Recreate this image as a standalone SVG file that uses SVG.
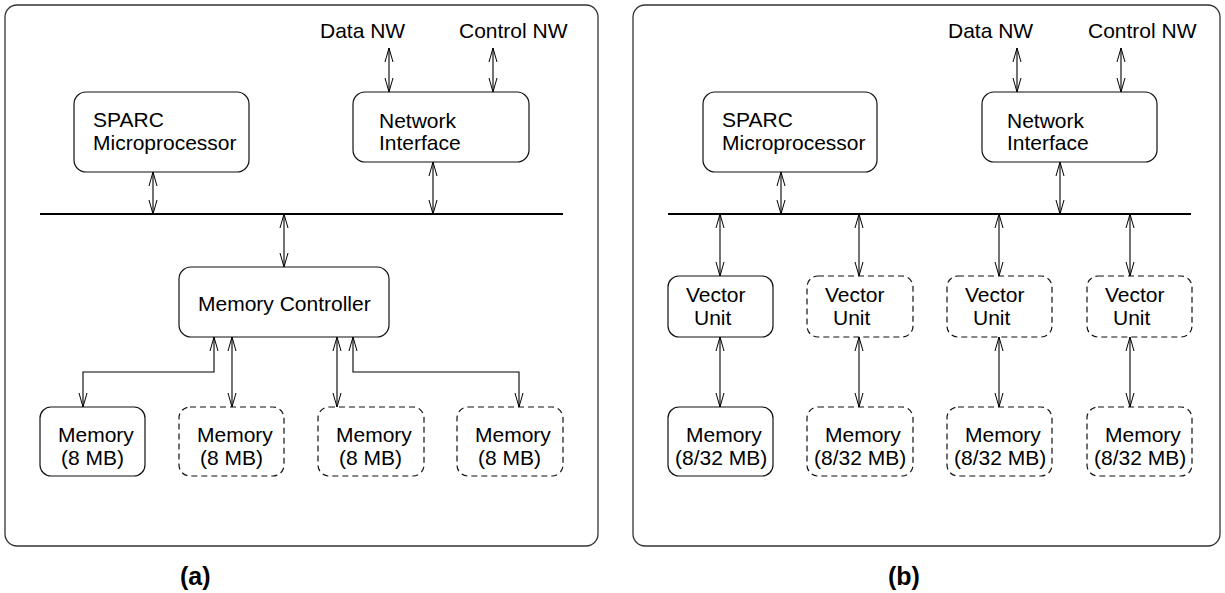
<svg xmlns="http://www.w3.org/2000/svg" width="1225" height="593" viewBox="0 0 1225 593">
<style>
.frame{fill:#fff;stroke:#333;stroke-width:1.3}
.box{fill:#fff;stroke:#111;stroke-width:1.2}
.dash{fill:#fff;stroke:#111;stroke-width:1.2;stroke-dasharray:6,4}
.bus{stroke:#000;stroke-width:2.2;fill:none}
.con{stroke:#000;stroke-width:1.1;fill:none;marker-start:url(#ah);marker-end:url(#ah)}
text{font-family:"Liberation Sans",Arial,sans-serif;font-size:21px;fill:#000}
.cap{font-weight:bold;font-size:25px}
</style>
<defs>
<marker id="ah" viewBox="0 0 14 10" refX="14" refY="5" markerWidth="14" markerHeight="10" markerUnits="userSpaceOnUse" orient="auto-start-reverse">
<path d="M0,1 L14,5 L0,9" fill="none" stroke="#000" stroke-width="1"/>
</marker>
</defs>
<rect width="1225" height="593" fill="#fff"/>
<g id="panel-a">
<rect class="frame" x="5" y="5" width="593" height="541" rx="12"/>
<text class="cap" x="180" y="585">(a)</text>
</g>
<g id="panel-b">
<rect class="frame" x="633" y="5" width="587" height="541" rx="12"/>
<text class="cap" x="888" y="585">(b)</text>
</g>
<g id="connectors">
<line class="bus" x1="40" y1="214" x2="563" y2="214"/>
<line class="bus" x1="668" y1="214" x2="1191" y2="214"/>
<line class="con" x1="389" y1="48" x2="389" y2="92"/>
<line class="con" x1="493" y1="48" x2="493" y2="92"/>
<line class="con" x1="153" y1="172" x2="153" y2="214"/>
<line class="con" x1="433" y1="162" x2="433" y2="214"/>
<line class="con" x1="284" y1="214" x2="284" y2="267"/>
<path class="con" d="M214,337 V372 H83 V407"/>
<line class="con" x1="232" y1="337" x2="232" y2="407"/>
<line class="con" x1="337" y1="337" x2="337" y2="407"/>
<path class="con" d="M353,337 V372 H519 V407"/>
<line class="con" x1="1017" y1="48" x2="1017" y2="92"/>
<line class="con" x1="1121" y1="48" x2="1121" y2="92"/>
<line class="con" x1="781" y1="172" x2="781" y2="214"/>
<line class="con" x1="1060" y1="162" x2="1060" y2="214"/>
<line class="con" x1="720" y1="214" x2="720" y2="276"/>
<line class="con" x1="859" y1="214" x2="859" y2="276"/>
<line class="con" x1="999" y1="214" x2="999" y2="276"/>
<line class="con" x1="1130" y1="214" x2="1130" y2="276"/>
<line class="con" x1="720" y1="337" x2="720" y2="407"/>
<line class="con" x1="859" y1="337" x2="859" y2="407"/>
<line class="con" x1="999" y1="337" x2="999" y2="407"/>
<line class="con" x1="1130" y1="337" x2="1130" y2="407"/>
</g>
<g id="a-labels">
<text x="320" y="38">Data NW</text>
<text x="459" y="38">Control NW</text>
</g>
<g id="a-sparc">
<rect class="box" x="74" y="92" width="175" height="80" rx="12"/>
<text x="93" y="127">SPARC</text>
<text x="93" y="150">Microprocessor</text>
</g>
<g id="a-ni">
<rect class="box" x="353" y="92" width="176" height="70" rx="12"/>
<text x="379" y="128">Network</text>
<text x="379" y="150">Interface</text>
</g>
<g id="a-mc">
<rect class="box" x="179" y="267" width="210" height="70" rx="12"/>
<text x="198" y="311">Memory Controller</text>
</g>
<g id="a-mem1">
<rect class="box" x="40" y="407" width="105" height="69" rx="11"/>
<text x="58" y="442">Memory</text>
<text x="61" y="465">(8 MB)</text>
</g>
<g id="a-mem2">
<rect class="dash" x="179" y="407" width="105" height="69" rx="11"/>
<text x="197" y="442">Memory</text>
<text x="200" y="465">(8 MB)</text>
</g>
<g id="a-mem3">
<rect class="dash" x="318" y="407" width="106" height="69" rx="11"/>
<text x="336" y="442">Memory</text>
<text x="339" y="465">(8 MB)</text>
</g>
<g id="a-mem4">
<rect class="dash" x="457" y="407" width="106" height="69" rx="11"/>
<text x="475" y="442">Memory</text>
<text x="478" y="465">(8 MB)</text>
</g>
<g id="b-labels">
<text x="948" y="38">Data NW</text>
<text x="1088" y="38">Control NW</text>
</g>
<g id="b-sparc">
<rect class="box" x="703" y="92" width="174" height="80" rx="12"/>
<text x="722" y="127">SPARC</text>
<text x="722" y="150">Microprocessor</text>
</g>
<g id="b-ni">
<rect class="box" x="982" y="92" width="175" height="70" rx="12"/>
<text x="1007" y="128">Network</text>
<text x="1007" y="150">Interface</text>
</g>
<g id="b-vu1">
<rect class="box" x="668" y="276" width="105" height="61" rx="11"/>
<text x="686" y="302">Vector</text>
<text x="694" y="325">Unit</text>
</g>
<g id="b-vu2">
<rect class="dash" x="807" y="276" width="106" height="61" rx="11"/>
<text x="825" y="302">Vector</text>
<text x="833" y="325">Unit</text>
</g>
<g id="b-vu3">
<rect class="dash" x="947" y="276" width="105" height="61" rx="11"/>
<text x="965" y="302">Vector</text>
<text x="973" y="325">Unit</text>
</g>
<g id="b-vu4">
<rect class="dash" x="1087" y="276" width="105" height="61" rx="11"/>
<text x="1105" y="302">Vector</text>
<text x="1113" y="325">Unit</text>
</g>
<g id="b-mem1">
<rect class="box" x="668" y="407" width="105" height="69" rx="11"/>
<text x="686" y="442">Memory</text>
<text x="675" y="465">(8/32 MB)</text>
</g>
<g id="b-mem2">
<rect class="dash" x="807" y="407" width="106" height="69" rx="11"/>
<text x="825" y="442">Memory</text>
<text x="814" y="465">(8/32 MB)</text>
</g>
<g id="b-mem3">
<rect class="dash" x="947" y="407" width="105" height="69" rx="11"/>
<text x="965" y="442">Memory</text>
<text x="954" y="465">(8/32 MB)</text>
</g>
<g id="b-mem4">
<rect class="dash" x="1087" y="407" width="105" height="69" rx="11"/>
<text x="1105" y="442">Memory</text>
<text x="1094" y="465">(8/32 MB)</text>
</g>
</svg>
